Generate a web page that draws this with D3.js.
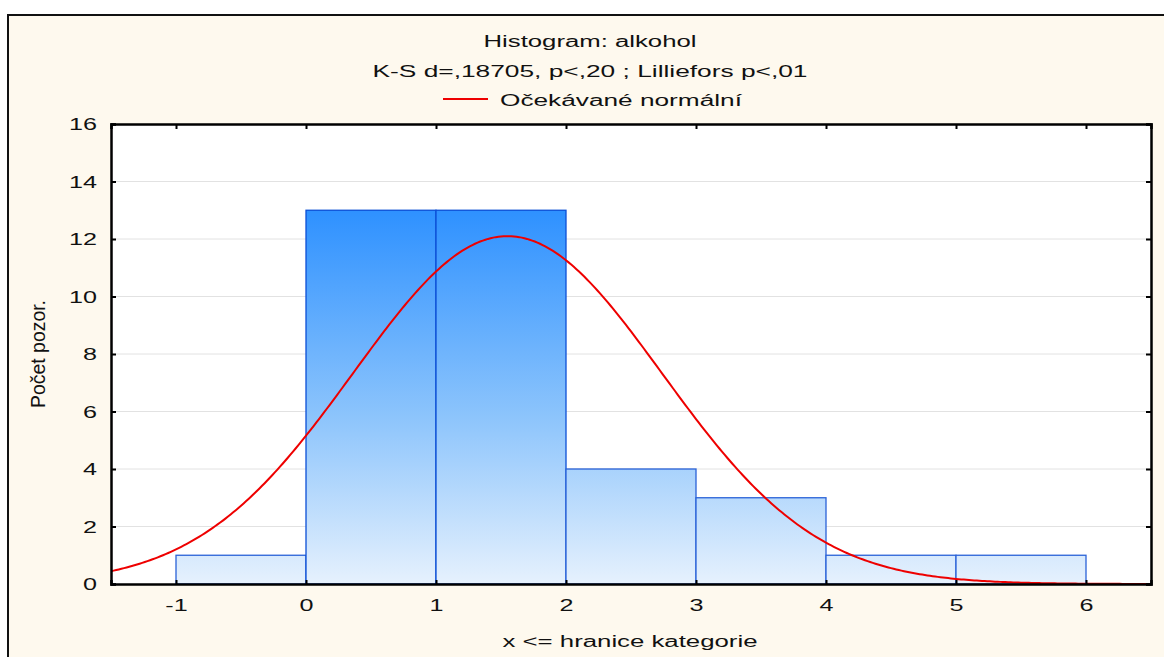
<!DOCTYPE html>
<html><head><meta charset="utf-8">
<script src="https://cdn.jsdelivr.net/npm/d3@7"></script>
<style>body{margin:0;background:#fff}svg{display:block}text{font-family:"Liberation Sans",Arial,sans-serif;fill:#111}</style>
</head><body><svg id="c" width="1164" height="657"></svg>
<script>
// Data
const binEdges = [-1, 0, 1, 2, 3, 4, 5, 6];
const binCounts = [1, 13, 13, 4, 3, 1, 1];
const xTicks = [-1, 0, 1, 2, 3, 4, 5, 6];
const yTicks = [0, 2, 4, 6, 8, 10, 12, 14, 16];
const normalMean = 1.55, normalSd = 1.187, totalN = 36, binWidth = 1;
const titleText = "Histogram: alkohol";
const subtitleText = "K-S d=,18705, p<,20 ; Lilliefors p<,01";
const legendText = "Očekávané normální";
const xLabel = "x <= hranice kategorie";
const yLabel = "Počet pozor.";

const svg = d3.select("#c");
svg.append("rect").attr("x",8).attr("y",15).attr("width",1170).attr("height",660)
  .attr("fill","#fef9ee").attr("stroke","#111").attr("stroke-width",2);

const L=111,R=1151,T=124,B=584;
const x = d3.scaleLinear().domain([-1.5,6.5]).range([L,R]);
const y = d3.scaleLinear().domain([0,16]).range([B,T]);
const STRETCH = 1.57;
function stretch(sel, target){
  sel.each(function(){
    const w = this.getComputedTextLength();
    d3.select(this).attr("textLength", target || w*STRETCH).attr("lengthAdjust","spacingAndGlyphs");
  });
}

svg.append("rect").attr("x",L).attr("y",T).attr("width",R-L).attr("height",B-T).attr("fill","#fff");

// gridlines
svg.append("g").selectAll("line").data(yTicks.filter(d=>d>0&&d<16)).join("line")
  .attr("x1",L).attr("x2",R).attr("y1",d=>y(d)).attr("y2",d=>y(d))
  .attr("stroke","#e2e2e2").attr("stroke-width",1);

const defs = svg.append("defs");
const g = defs.append("linearGradient").attr("id","bg").attr("gradientUnits","userSpaceOnUse")
  .attr("x1",0).attr("x2",0).attr("y1",y(13)).attr("y2",y(0));
g.append("stop").attr("offset",0).attr("stop-color","#2e91ff");
g.append("stop").attr("offset",0.55).attr("stop-color","#8cc4fc");
g.append("stop").attr("offset",1).attr("stop-color","#e6f1fd");
defs.append("clipPath").attr("id","clip").append("rect").attr("x",L).attr("y",T).attr("width",R-L).attr("height",B-T);

const bins = binCounts.map((c,i)=>({x0:binEdges[i],x1:binEdges[i+1],c}));
svg.append("g").selectAll("rect").data(bins).join("rect")
  .attr("x",d=>x(d.x0)).attr("width",d=>x(d.x1)-x(d.x0))
  .attr("y",d=>y(d.c)).attr("height",d=>y(0)-y(d.c))
  .attr("fill","url(#bg)").attr("stroke",d=>d.c>10?"#0b4fd6":"#2a62d8").attr("stroke-width",1.3);

// normal curve (expected normal from fitted mean/sd)
const xs = d3.range(-1.5,6.5001,0.02);
const pdf = v=>Math.exp(-0.5*((v-normalMean)/normalSd)**2)/(normalSd*Math.sqrt(2*Math.PI));
svg.append("path").attr("clip-path","url(#clip)")
  .datum(xs.map(v=>[v,totalN*binWidth*pdf(v)]))
  .attr("d",d3.line().x(d=>x(d[0])).y(d=>y(d[1])))
  .attr("fill","none").attr("stroke","#ee0000").attr("stroke-width",2);

// axes
const fs = "16px";
const ax = svg.append("g").attr("transform",`translate(0,${B})`).call(d3.axisBottom(x).tickValues(xTicks).tickSize(-4).tickPadding(0).tickFormat(d=>String(d)));
const ay = svg.append("g").attr("transform",`translate(${L},0)`).call(d3.axisLeft(y).tickValues(yTicks).tickSize(-5).tickPadding(14));
const axT = svg.append("g").attr("transform",`translate(0,${T})`).call(d3.axisTop(x).tickValues(xTicks).tickSize(-5).tickFormat(""));
const ayR = svg.append("g").attr("transform",`translate(${R},0)`).call(d3.axisRight(y).tickValues(yTicks).tickSize(-5).tickFormat(""));
[ax,ay,axT,ayR].forEach(a=>{
  a.select(".domain").attr("stroke","#000").attr("stroke-width",2.5);
  a.selectAll(".tick line").attr("stroke","#000").attr("stroke-width",2);
  a.selectAll("text").attr("font-size",fs).attr("fill","#111").attr("font-family","Liberation Sans, Arial, sans-serif");
});
ax.selectAll("text").attr("y",27).attr("dy",0);
ay.selectAll("text").attr("x",-14).attr("dy","0.36em");
stretch(ax.selectAll("text"));
stretch(ay.selectAll("text"));

// texts
const t1 = svg.append("text").attr("x",590).attr("y",47).attr("text-anchor","middle").attr("font-size",fs).text(titleText);
stretch(t1,213);
const t2 = svg.append("text").attr("x",590).attr("y",77).attr("text-anchor","middle").attr("font-size",fs).text(subtitleText);
stretch(t2,435);
svg.append("line").attr("x1",443).attr("x2",488).attr("y1",99).attr("y2",99).attr("stroke","#ee0000").attr("stroke-width",2);
const t3 = svg.append("text").attr("x",500).attr("y",106).attr("font-size",fs).text(legendText);
stretch(t3,242);
const t4 = svg.append("text").attr("x",630).attr("y",647).attr("text-anchor","middle").attr("font-size",fs).text(xLabel);
stretch(t4,255);
svg.append("text").attr("transform","translate(45,354) rotate(-90)").attr("text-anchor","middle")
  .attr("font-size","20px").attr("textLength",108).attr("lengthAdjust","spacingAndGlyphs")
  .attr("font-family","Liberation Sans Narrow, Liberation Sans, sans-serif").text(yLabel);
</script></body></html>
